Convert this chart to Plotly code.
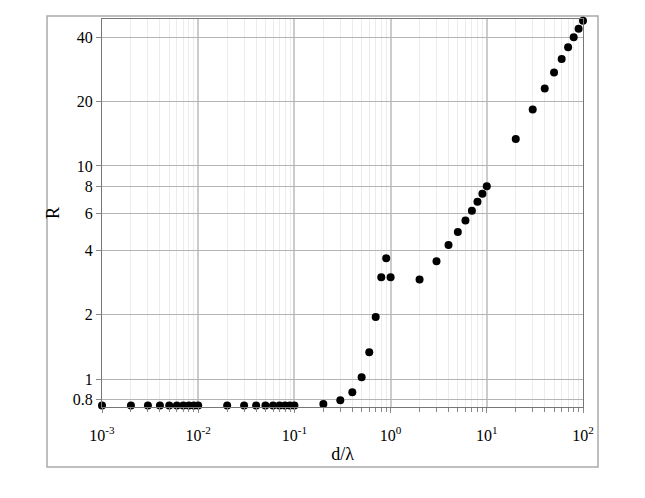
import plotly.graph_objects as go

d_over_lambda = [0.001, 0.002, 0.003, 0.004, 0.005, 0.006, 0.007, 0.008, 0.009, 0.01,
                 0.02, 0.03, 0.04, 0.05, 0.06, 0.07, 0.08, 0.09, 0.1,
                 0.2, 0.3, 0.4, 0.5, 0.6, 0.7, 0.8, 0.9, 1.0,
                 2, 3, 4, 5, 6, 7, 8, 9, 10,
                 20, 30, 40, 50, 60, 70, 80, 90, 100]
R = [0.75, 0.75, 0.75, 0.75, 0.75, 0.75, 0.75, 0.75, 0.75, 0.75,
     0.75, 0.75, 0.75, 0.75, 0.75, 0.75, 0.75, 0.75, 0.75,
     0.764, 0.794, 0.866, 1.02, 1.335, 1.955, 3.0, 3.69, 3.0,
     2.93, 3.57, 4.26, 4.90, 5.54, 6.17, 6.80, 7.41, 8.03,
     13.4, 18.4, 23.1, 27.5, 31.8, 36.1, 40.2, 44.1, 48.1]

x_tickvals = [0.001, 0.01, 0.1, 1, 10, 100]
x_ticktext = ["10<sup>-3</sup>", "10<sup>-2</sup>", "10<sup>-1</sup>",
              "10<sup>0</sup>", "10<sup>1</sup>", "10<sup>2</sup>"]
x_minor = [m * 10 ** e for e in range(-3, 2) for m in range(2, 10)]
y_tickvals = [0.8, 1, 2, 4, 6, 8, 10, 20, 40]
y_ticktext = ["0.8", "1", "2", "4", "6", "8", "10", "20", "40"]

font = "Liberation Serif"

fig = go.Figure()
fig.add_trace(go.Scatter(
    x=d_over_lambda, y=R, mode="markers",
    marker=dict(color="black", size=8),
    cliponaxis=False, showlegend=False,
))

fig.update_layout(
    width=645, height=498,
    margin=dict(l=94, r=70, t=11, b=99, autoexpand=False),
    paper_bgcolor="white", plot_bgcolor="white",
    font=dict(family=font, size=16, color="black"),
    shapes=[dict(type="rect", xref="paper", yref="paper",
                 x0=-0.1143, x1=1.0312, y0=-0.1546, y1=1.0077,
                 line=dict(color="#aaaaaa", width=1.5), layer="below")],
)

fig.update_xaxes(
    type="log", range=[-3, 2],
    tickmode="array", tickvals=x_tickvals, ticktext=x_ticktext,
    showgrid=True, gridcolor="#cccccc", gridwidth=2,
    ticks="outside", ticklen=5, tickcolor="#888888",
    minor=dict(tickmode="array", tickvals=x_minor, showgrid=True,
               gridcolor="#ececec", gridwidth=1,
               ticks="outside", ticklen=4, tickcolor="#888888"),
    showline=True, linecolor="#777777", linewidth=1, mirror=True,
    ticklabelstandoff=9,
    tickfont=dict(family=font, size=16),
    title=dict(text="d/λ", font=dict(family=font, size=18), standoff=4),
    zeroline=False,
)
fig.update_yaxes(
    type="log", range=[-0.1314, 1.690],
    tickmode="array", tickvals=y_tickvals, ticktext=y_ticktext,
    showgrid=True, gridcolor="#b4b4b4", gridwidth=1,
    ticks="outside", ticklen=5, tickcolor="#888888",
    showline=True, linecolor="#777777", linewidth=1, mirror=True,
    tickfont=dict(family=font, size=16),
    title=dict(text="R", font=dict(family=font, size=18), standoff=8),
    zeroline=False,
)

fig.write_html("out.html")
